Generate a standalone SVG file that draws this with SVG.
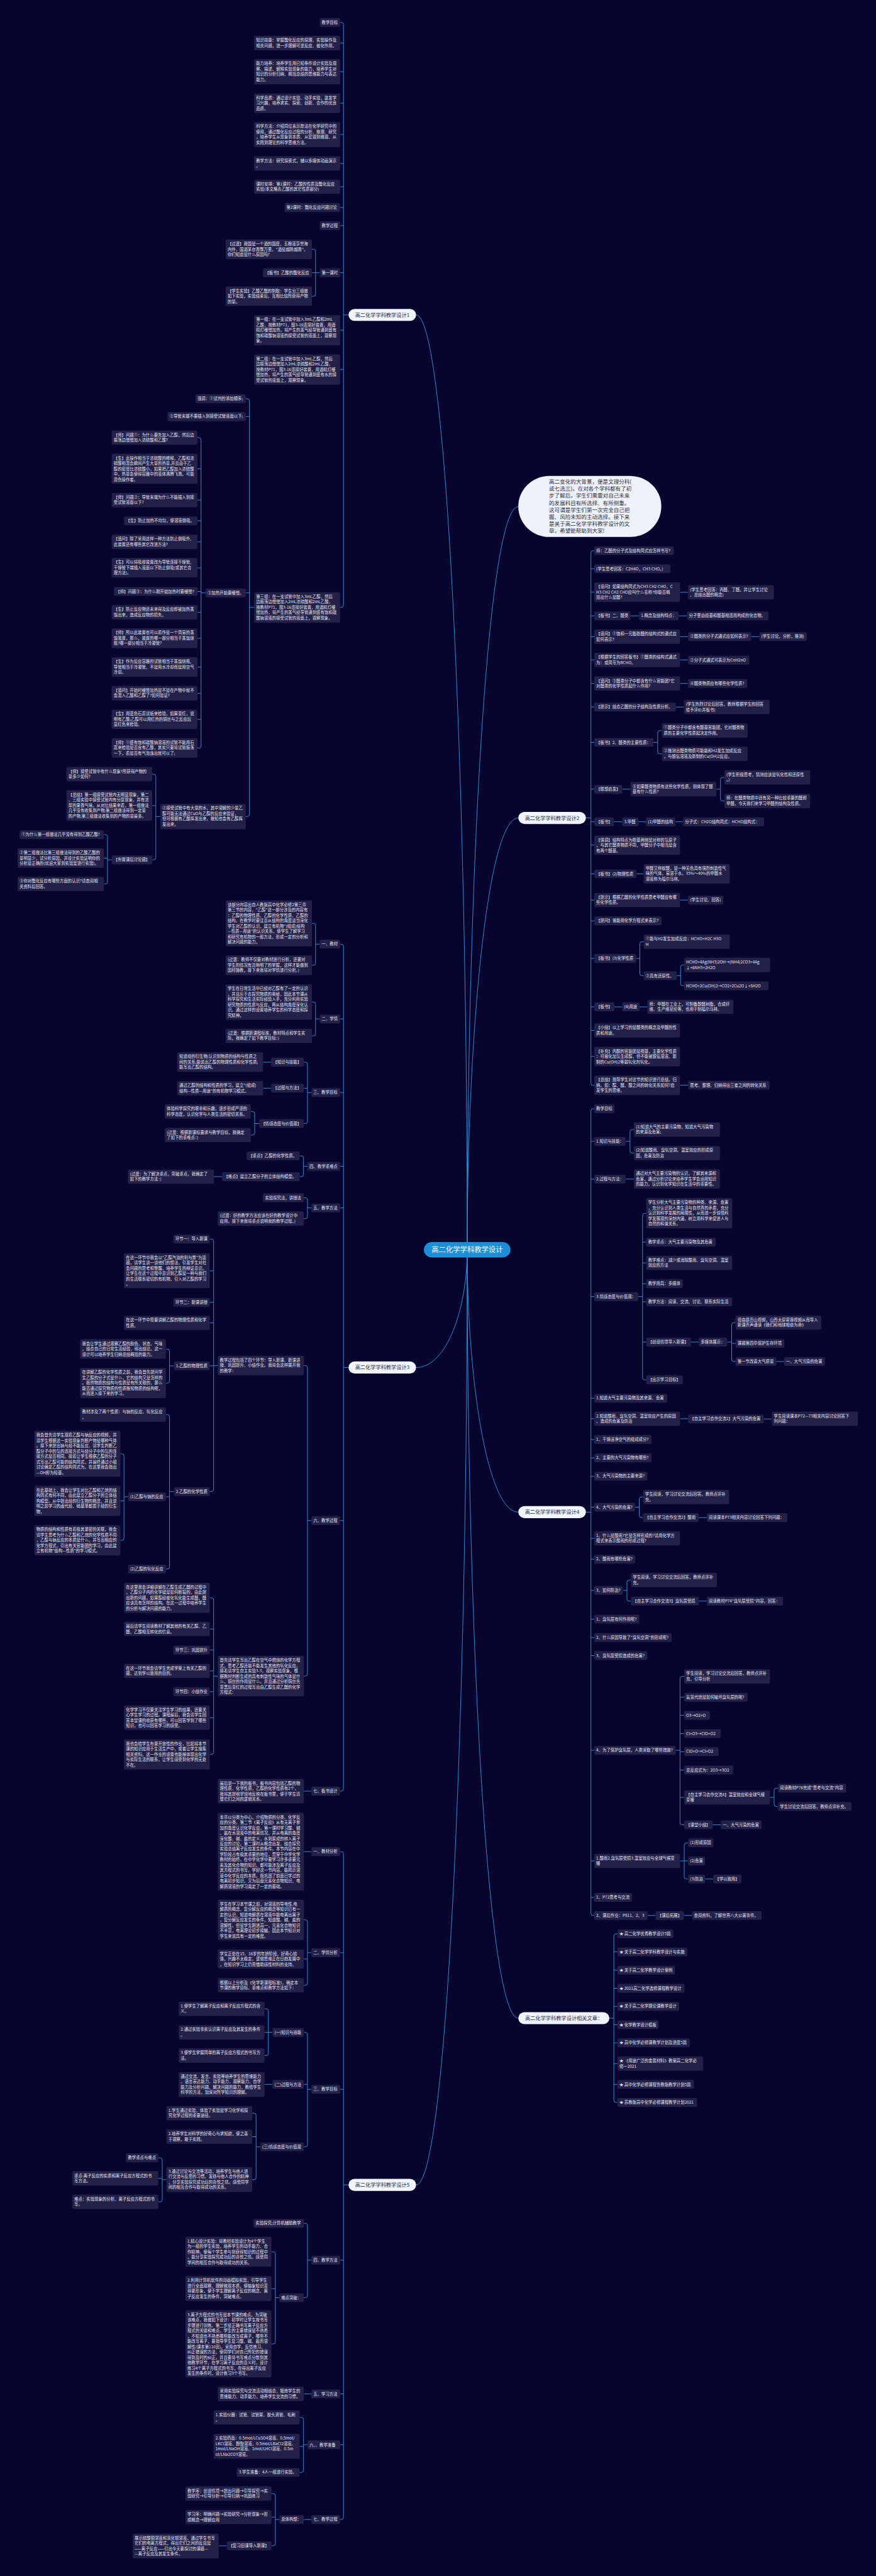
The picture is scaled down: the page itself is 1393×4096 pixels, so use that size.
<svg xmlns="http://www.w3.org/2000/svg" width="1393" height="4096" viewBox="0 0 1393 4096">
<style>
.n rect{fill:#232049;rx:5px}
.n text{font-family:"Noto Sans CJK SC","Noto Sans",sans-serif;font-size:14.4px;fill:#e6e6ef}
.br rect{fill:#f1f4fd;rx:22px}
.br text{font-family:"Noto Sans CJK SC","Noto Sans",sans-serif;font-size:18.5px;fill:#2b2b3b;text-anchor:middle}
.lk path{fill:none;stroke:#2e90da;stroke-width:2.2}
</style>
<rect width="1393" height="4096" fill="#07052e"/>
<g transform="scale(0.44408,0.43541)">
<g id="connectors" class="lk">
<path d="M1673,4564 C1673,2857 1600,1150 1490,1150"/>
<path d="M1673,4564 C1673,3207 1746,1850 1856,1850"/>
<path d="M1673,4564 C1673,3776 1746,2987 1856,2987"/>
<path d="M1673,4564 C1673,4779 1600,4994 1490,4994"/>
<path d="M1673,4564 C1673,5043 1746,5522 1856,5522"/>
<path d="M1673,4564 C1673,5967 1746,7370 1856,7370"/>
<path d="M1673,4564 C1673,6272 1600,7979 1490,7979"/>
<path d="M1218,82 H1222 Q1230,82 1230,90 V2210 Q1230,2218 1222,2218 H1218 M1230,157 H1218 M1230,262 H1218 M1230,377 H1218 M1230,491 H1218 M1230,597 H1218 M1230,682 H1218 M1230,758 H1218 M1230,824 H1218 M1230,996 H1218 M1230,1206 H1218 M1230,1349 H1218 M1248,1150 H1230"/>
<path d="M1117,910 H1122 Q1130,910 1130,918 V1074 Q1130,1082 1122,1082 H1117 M1130,996 H1117 M1145,996 H1130"/>
<path d="M880,1456 H885 Q893,1456 893,1464 V2974 Q893,2982 885,2982 H880 M893,1521 H880 M893,2165 H880 M910,2218 H893"/>
<path d="M707,1598 H712 Q720,1598 720,1606 V2724 Q720,2732 712,2732 H707 M720,1712 H707 M720,1826 H707 M720,1902 H707 M720,1979 H707 M720,2074 H707 M720,2160 H707 M720,2236 H707 M720,2331 H707 M720,2436 H707 M720,2532 H707 M720,2627 H707 M736,2165 H720"/>
<path d="M545,2827 H550 Q558,2827 558,2835 V3132 Q558,3140 550,3140 H545 M558,2942 H545 M574,2982 H558"/>
<path d="M372,3048 H377 Q385,3048 385,3056 V3220 Q385,3228 377,3228 H372 M385,3134 H372 M400,3140 H385"/>
<path d="M1218,3448 H1222 Q1230,3448 1230,3456 V6533 Q1230,6541 1222,6541 H1218 M1230,3721 H1218 M1230,3990 H1218 M1230,4259 H1218 M1230,4411 H1218 M1230,5553 H1218 M1248,4994 H1230"/>
<path d="M1117,3372 H1122 Q1130,3372 1130,3380 V3517 Q1130,3525 1122,3525 H1117 M1145,3448 H1130"/>
<path d="M1117,3659 H1122 Q1130,3659 1130,3667 V3775 Q1130,3783 1122,3783 H1117 M1145,3721 H1130"/>
<path d="M1088,3879 H1093 Q1101,3879 1101,3887 V4095 Q1101,4103 1093,4103 H1088 M1101,3974 H1088 M1115,3990 H1101"/>
<path d="M971,3879 H942 M971,3974 H942"/>
<path d="M898,4059 H904 Q912,4059 912,4067 V4137 Q912,4145 904,4145 H898 M928,4103 H912"/>
<path d="M1073,4221 H1079 Q1087,4221 1087,4229 V4289 Q1087,4297 1079,4297 H1073 M1101,4259 H1087 M795,4297 H766"/>
<path d="M1088,4374 H1093 Q1101,4374 1101,4382 V4442 Q1101,4450 1093,4450 H1088 M1115,4411 H1101"/>
<path d="M1088,4987 H1093 Q1101,4987 1101,4995 V6113 Q1101,6121 1093,6121 H1088 M1115,5553 H1101"/>
<path d="M751,4525 H757 Q765,4525 765,4533 V5439 Q765,5447 757,5447 H751 M765,4641 H751 M765,4756 H751 M765,4831 H751 M765,4988 H751 M780,4987 H765"/>
<path d="M594,4927 H599 Q607,4927 607,4935 V5043 Q607,5051 599,5051 H594 M623,4988 H607"/>
<path d="M594,5166 H599 Q607,5166 607,5174 V5722 Q607,5730 599,5730 H594 M607,5466 H594 M623,5447 H607"/>
<path d="M431,5309 H436 Q444,5309 444,5317 V5617 Q444,5625 436,5625 H431 M444,5481 H431 M459,5466 H444"/>
<path d="M751,5835 H757 Q765,5835 765,5843 V6399 Q765,6407 757,6407 H751 M765,5949 H751 M765,6026 H751 M765,6102 H751 M765,6178 H751 M765,6273 H751 M780,6121 H765"/>
<path d="M1115,6541 H1088"/>
<path d="M1218,6762 H1222 Q1230,6762 1230,6770 V9193 Q1230,9201 1222,9201 H1218 M1230,7131 H1218 M1230,7630 H1218 M1230,8254 H1218 M1230,8742 H1218 M1230,8928 H1218 M1248,7979 H1230"/>
<path d="M1115,6762 H1088"/>
<path d="M1088,7011 H1093 Q1101,7011 1101,7019 V7242 Q1101,7250 1093,7250 H1088 M1101,7154 H1088 M1115,7131 H1101"/>
<path d="M1088,7422 H1093 Q1101,7422 1101,7430 V7832 Q1101,7840 1093,7840 H1088 M1101,7612 H1088 M1115,7630 H1101"/>
<path d="M947,7336 H953 Q961,7336 961,7344 V7499 Q961,7507 953,7507 H947 M961,7422 H947 M976,7422 H961"/>
<path d="M976,7612 H947"/>
<path d="M903,7717 H909 Q917,7717 917,7725 V7952 Q917,7960 909,7960 H903 M917,7803 H903 M932,7840 H917"/>
<path d="M567,7880 H573 Q581,7880 581,7888 V8033 Q581,8041 573,8041 H567 M581,7955 H567 M596,7960 H581"/>
<path d="M1088,8119 H1093 Q1101,8119 1101,8127 V8383 Q1101,8391 1093,8391 H1088 M1115,8254 H1101"/>
<path d="M972,8223 H978 Q986,8223 986,8231 V8552 Q986,8560 978,8560 H972 M986,8358 H972 M1000,8391 H986"/>
<path d="M1115,8742 H1088"/>
<path d="M1073,8828 H1079 Q1087,8828 1087,8836 V9021 Q1087,9029 1079,9029 H1073 M1087,8934 H1073 M1101,8928 H1087"/>
<path d="M1115,9201 H1088"/>
<path d="M972,9106 H978 Q986,9106 986,9114 V9289 Q986,9297 978,9297 H972 M986,9192 H972 M1000,9201 H986 M812,9297 H783"/>
<path d="M2128,2011 H2124 Q2116,2011 2116,2019 V3956 Q2116,3964 2124,3964 H2128 M2116,2077 H2128 M2116,2162 H2128 M2116,2249 H2128 M2116,2325 H2128 M2116,2410 H2128 M2116,2496 H2128 M2116,2582 H2128 M2116,2711 H2128 M2116,2882 H2128 M2116,3001 H2128 M2116,3086 H2128 M2116,3191 H2128 M2116,3287 H2128 M2116,3363 H2128 M2116,3500 H2128 M2116,3677 H2128 M2116,3763 H2128 M2116,3858 H2128 M2098,2987 H2116"/>
<path d="M2435,2163 H2464 M2258,2249 H2288 M2430,2249 H2460 M2435,2325 H2464 M2690,2325 H2719 M2435,2410 H2464 M2435,2496 H2464 M2420,2582 H2449"/>
<path d="M2370,2668 H2363 Q2355,2668 2355,2676 V2745 Q2355,2753 2363,2753 H2370 M2340,2711 H2355"/>
<path d="M2228,2882 H2258 M2594,2839 H2588 Q2580,2839 2580,2847 V2917 Q2580,2925 2588,2925 H2594 M2565,2882 H2580"/>
<path d="M2198,3001 H2228 M2286,3001 H2313 M2418,3001 H2446 M2278,3191 H2305 M2435,3287 H2464"/>
<path d="M2305,3439 H2299 Q2291,3439 2291,3447 V3555 Q2291,3563 2299,3563 H2305 M2278,3500 H2291"/>
<path d="M2450,3524 H2445 Q2437,3524 2437,3532 V3592 Q2437,3600 2445,3600 H2450 M2423,3563 H2437"/>
<path d="M2200,3677 H2228 M2290,3677 H2318 M2435,3963 H2464"/>
<path d="M2128,4049 H2124 Q2116,4049 2116,4057 V6987 Q2116,6995 2124,6995 H2128 M2116,4168 H2128 M2116,4306 H2128 M2116,4735 H2128 M2116,5106 H2128 M2116,5181 H2128 M2116,5257 H2128 M2116,5324 H2128 M2116,5391 H2128 M2116,5504 H2128 M2116,5618 H2128 M2116,5694 H2128 M2116,5808 H2128 M2116,5913 H2128 M2116,5980 H2128 M2116,6046 H2128 M2116,6392 H2128 M2116,6796 H2128 M2116,6929 H2128 M2098,5522 H2116"/>
<path d="M2270,4125 H2264 Q2256,4125 2256,4133 V4203 Q2256,4211 2264,4211 H2270 M2240,4168 H2256 M2240,4306 H2270"/>
<path d="M2314,4431 H2309 Q2301,4431 2301,4439 V5031 Q2301,5039 2309,5039 H2314 M2301,4536 H2314 M2301,4612 H2314 M2301,4688 H2314 M2301,4754 H2314 M2301,4901 H2314 M2286,4735 H2301"/>
<path d="M2474,4901 H2502 M2634,4830 H2628 Q2620,4830 2620,4838 V4964 Q2620,4972 2628,4972 H2634 M2620,4906 H2634 M2604,4901 H2620 M2780,4972 H2808"/>
<path d="M2435,5181 H2464 M2735,5182 H2764"/>
<path d="M2303,5467 H2297 Q2289,5467 2289,5475 V5534 Q2289,5542 2297,5542 H2303 M2274,5504 H2289 M2502,5542 H2531"/>
<path d="M2259,5770 H2253 Q2245,5770 2245,5778 V5839 Q2245,5847 2253,5847 H2259 M2230,5808 H2245 M2502,5847 H2531"/>
<path d="M2450,6122 H2443 Q2435,6122 2435,6130 V6656 Q2435,6664 2443,6664 H2450 M2435,6198 H2450 M2435,6264 H2450 M2435,6331 H2450 M2435,6397 H2450 M2435,6464 H2450 M2435,6564 H2450 M2420,6392 H2435"/>
<path d="M2786,6530 H2780 Q2772,6530 2772,6538 V6589 Q2772,6597 2780,6597 H2786 M2757,6564 H2772 M2552,6664 H2581"/>
<path d="M2464,6730 H2458 Q2450,6730 2450,6738 V6854 Q2450,6862 2458,6862 H2464 M2450,6796 H2464 M2435,6796 H2450 M2525,6862 H2554"/>
<path d="M2319,6995 H2348 M2449,6995 H2478"/>
<path d="M2211,7062 H2206 Q2198,7062 2198,7070 V7670 Q2198,7678 2206,7678 H2211 M2198,7128 H2211 M2198,7195 H2211 M2198,7261 H2211 M2198,7327 H2211 M2198,7394 H2211 M2198,7460 H2211 M2198,7536 H2211 M2198,7612 H2211 M2182,7370 H2198"/>
</g>

<g id="center"><rect x="1518" y="4536" width="310" height="56" rx="28" fill="#1d8fd8"/><text x="1673" y="4573" font-family="Noto Sans CJK SC, sans-serif" font-size="25.5" fill="#ffffff" text-anchor="middle">高二化学学科教学设计</text></g>

<g id="intro"><rect x="1856" y="1738" width="512" height="223" rx="111" fill="#eef2fc"/><text font-family="Noto Sans CJK SC, sans-serif" font-size="19.3" fill="#2b2b3b"><tspan x="1966" y="1766">高二变化的大背景，便是文理分科(</tspan><tspan x="1966" dy="25.7">或七选三)。在对各个学科都有了初</tspan><tspan x="1966" dy="25.7">步了解后，学生们需要对自己未来</tspan><tspan x="1966" dy="25.7">的发展科目有所选择、有所侧重。</tspan><tspan x="1966" dy="25.7">这可谓是学生们第一次完全自己把</tspan><tspan x="1966" dy="25.7">握、风险未知的主动选择。接下来</tspan><tspan x="1966" dy="25.7">是关于高二化学学科教学设计的文</tspan><tspan x="1966" dy="25.7">章，希望能帮助到大家!</tspan></text></g>

<g id="branch1" class="br"><rect x="1248" y="1128" width="242" height="44"/><text x="1369" y="1157">高二化学学科教学设计1</text></g>
<g id="branch2" class="br"><rect x="1856" y="2965" width="242" height="44"/><text x="1977" y="2994">高二化学学科教学设计2</text></g>
<g id="branch3" class="br"><rect x="1248" y="4972" width="242" height="44"/><text x="1369" y="5001">高二化学学科教学设计3</text></g>
<g id="branch4" class="br"><rect x="1856" y="5500" width="242" height="44"/><text x="1977" y="5529">高二化学学科教学设计4</text></g>
<g id="branch5" class="br"><rect x="1248" y="7957" width="242" height="44"/><text x="1369" y="7986">高二化学学科教学设计5</text></g>
<g id="branch6" class="br"><rect x="1856" y="7348" width="326" height="44"/><text x="2019" y="7377">高二化学学科教学设计相关文章：</text></g>

<g id="a1" class="n"><rect x="1145" y="66" width="73" height="32"/><text x="1152" y="87">教学目标</text></g>
<g id="a2" class="n"><rect x="910" y="131" width="308" height="53"/><text x="917" y="152"><tspan>知识技能：掌握酯化反应的原理、实验操作及</tspan><tspan x="917" dy="19.5">相关问题，进一步理解可逆反应、催化作用。</tspan></text></g>
<g id="a3" class="n"><rect x="910" y="216" width="308" height="92"/><text x="917" y="237"><tspan>能力培养：培养学生用已知条件设计实验及观</tspan><tspan x="917" dy="19.5">察、描述、解释实验现象的能力，培养学生对</tspan><tspan x="917" dy="19.5">知识的分析归纳、概括总结的思维能力与表达</tspan><tspan x="917" dy="19.5">能力。</tspan></text></g>
<g id="a4" class="n"><rect x="910" y="341" width="308" height="72"/><text x="917" y="362"><tspan>科学品质：通过设计实验、动手实验，激发学</tspan><tspan x="917" dy="19.5">习兴趣，培养求实、探索、创新、合作的优良</tspan><tspan x="917" dy="19.5">品质。</tspan></text></g>
<g id="a5" class="n"><rect x="910" y="446" width="308" height="91"/><text x="917" y="467"><tspan>科学方法：介绍同位素示踪法在化学研究中的</tspan><tspan x="917" dy="19.5">使用，通过酯化反应过程的分析、推理、研究</tspan><tspan x="917" dy="19.5">，培养学生从现象到本质、从宏观到微观、从</tspan><tspan x="917" dy="19.5">实践到理论的科学思维方法。</tspan></text></g>
<g id="a6" class="n"><rect x="910" y="571" width="308" height="52"/><text x="917" y="592"><tspan>教学方法：研究探索式，辅以多媒体动画演示</tspan><tspan x="917" dy="19.5">。</tspan></text></g>
<g id="a7" class="n"><rect x="910" y="656" width="308" height="52"/><text x="917" y="677"><tspan>课时安排：第1课时：乙酸的性质及酯化反应</tspan><tspan x="917" dy="19.5">实验(本文略去乙酸的其它性质部分)</tspan></text></g>
<g id="a8" class="n"><rect x="1019" y="742" width="199" height="32"/><text x="1026" y="763">第2课时：酯化反应问题讨论</text></g>
<g id="a9" class="n"><rect x="1145" y="808" width="73" height="32"/><text x="1152" y="829">教学过程</text></g>
<g id="a10" class="n"><rect x="1145" y="980" width="73" height="32"/><text x="1152" y="1001">第一课时</text></g>
<g id="a10a" class="n"><rect x="808" y="875" width="309" height="71"/><text x="815" y="896"><tspan>【过渡】我国是一个酒的国度，五粮液享誉海</tspan><tspan x="815" dy="19.5">内外，国酒茅台香飘万里。"酒是越陈越香"。</tspan><tspan x="815" dy="19.5">你们知道是什么原因吗?</tspan></text></g>
<g id="a10b" class="n"><rect x="942" y="980" width="175" height="32"/><text x="949" y="1001">【板书】乙酸的酯化反应</text></g>
<g id="a10c" class="n"><rect x="808" y="1046" width="309" height="71"/><text x="815" y="1067"><tspan>【学生实验】乙酸乙酯的制取：学生分三组做</tspan><tspan x="815" dy="19.5">如下实验，实验结束后，互相比较所获得产物</tspan><tspan x="815" dy="19.5">的量。</tspan></text></g>
<g id="a11" class="n"><rect x="910" y="1151" width="308" height="110"/><text x="917" y="1172"><tspan>第一组：在一支试管中加入3mL乙醇和2mL</tspan><tspan x="917" dy="19.5">乙酸，按教材P71，图3-16连接好装置，用酒</tspan><tspan x="917" dy="19.5">精灯缓慢加热，将产生的蒸气经导管通到盛有</tspan><tspan x="917" dy="19.5">饱和碳酸钠溶液的接受试管的液面上，观察现</tspan><tspan x="917" dy="19.5">象。</tspan></text></g>
<g id="a12" class="n"><rect x="910" y="1294" width="308" height="111"/><text x="917" y="1315"><tspan>第二组：在一支试管中加入3mL乙醇，然后</tspan><tspan x="917" dy="19.5">边振荡边慢慢加入2mL浓硫酸和2mL乙酸，</tspan><tspan x="917" dy="19.5">按教材P71，图3-16连接好装置，用酒精灯缓</tspan><tspan x="917" dy="19.5">慢加热，将产生的蒸气经导管通到盛有水的接</tspan><tspan x="917" dy="19.5">受试管的液面上，观察现象。</tspan></text></g>
<g id="a13" class="n"><rect x="910" y="2163" width="308" height="111"/><text x="917" y="2184"><tspan>第三组：在一支试管中加入3mL乙醇，然后</tspan><tspan x="917" dy="19.5">边振荡边慢慢加入2mL浓硫酸和2mL乙酸，</tspan><tspan x="917" dy="19.5">按教材P71，图3-16连接好装置，用酒精灯缓</tspan><tspan x="917" dy="19.5">慢加热，将产生的蒸气经导管通到盛有饱和碳</tspan><tspan x="917" dy="19.5">酸钠溶液的接受试管的液面上，观察现象。</tspan></text></g>
<g id="s1" class="n"><rect x="700" y="1440" width="180" height="32"/><text x="707" y="1461">强调：①试剂的添加顺序;</text></g>
<g id="s2" class="n"><rect x="600" y="1505" width="280" height="33"/><text x="607" y="1526">②导管末端不要插入到接受试管液面以下;</text></g>
<g id="s3" class="n"><rect x="736" y="2149" width="144" height="32"/><text x="743" y="2170">③加热开始要缓慢。</text></g>
<g id="s4" class="n"><rect x="574" y="2936" width="306" height="92"/><text x="581" y="2957"><tspan>②接受试管中有大量的水，其中溶解的少量乙</tspan><tspan x="581" dy="19.5">醇可能无法通过CuO与乙醇的反应来验证，</tspan><tspan x="581" dy="19.5">但可根据有乙酸挥发出来，推知也会有乙醇挥</tspan><tspan x="581" dy="19.5">发出来。</tspan></text></g>
<g id="q1" class="n"><rect x="400" y="1572" width="307" height="52"/><text x="407" y="1593"><tspan>【师】问题①：为什么要先加入乙醇，然后边</tspan><tspan x="407" dy="19.5">振荡边慢慢加入浓硫酸和乙酸?</tspan></text></g>
<g id="q2" class="n"><rect x="400" y="1657" width="307" height="110"/><text x="407" y="1678"><tspan>【生】此操作相当于浓硫酸的稀释，乙醇和浓</tspan><tspan x="407" dy="19.5">硫酸相混会瞬间产生大量的热量,并且由于乙</tspan><tspan x="407" dy="19.5">醇的密度比浓硫酸小，如果把乙醇加入浓硫酸</tspan><tspan x="407" dy="19.5">中，热量会使得容器中的液体沸腾飞溅，可能</tspan><tspan x="407" dy="19.5">烫伤操作者。</tspan></text></g>
<g id="q3" class="n"><rect x="400" y="1800" width="307" height="52"/><text x="407" y="1821"><tspan>【师】问题②：导管末端为什么不能插入到接</tspan><tspan x="407" dy="19.5">受试管液面以下?</tspan></text></g>
<g id="q4" class="n"><rect x="444" y="1886" width="263" height="32"/><text x="451" y="1907">【生】防止加热不均匀，使溶液倒吸。</text></g>
<g id="q5" class="n"><rect x="400" y="1953" width="307" height="52"/><text x="407" y="1974"><tspan>【追问】除了采用这样一种方法防止倒吸外,</tspan><tspan x="407" dy="19.5">此装置还有哪些其它改进方法?</tspan></text></g>
<g id="q6" class="n"><rect x="400" y="2038" width="307" height="71"/><text x="407" y="2059"><tspan>【生】可以将吸收装置改为导管连接干燥管,</tspan><tspan x="407" dy="19.5">干燥管下端插入液面以下防止倒吸(或其它合</tspan><tspan x="407" dy="19.5">理方法)。</tspan></text></g>
<g id="q7" class="n"><rect x="408" y="2144" width="299" height="32"/><text x="415" y="2165">【师】问题③：为什么刚开始加热时要缓慢?</text></g>
<g id="q8" class="n"><rect x="400" y="2210" width="307" height="52"/><text x="407" y="2231"><tspan>【生】防止反应物还未来得及反应即被加热蒸</tspan><tspan x="407" dy="19.5">馏出来，造成反应物的损失。</tspan></text></g>
<g id="q9" class="n"><rect x="400" y="2295" width="307" height="72"/><text x="407" y="2316"><tspan>【师】所以此装置也可以看作是一个简易的蒸</tspan><tspan x="407" dy="19.5">馏装置，那么，装置的哪一部分相当于蒸馏烧</tspan><tspan x="407" dy="19.5">瓶?哪一部分相当于冷凝管?</tspan></text></g>
<g id="q10" class="n"><rect x="400" y="2400" width="307" height="72"/><text x="407" y="2421"><tspan>【生】作为反应容器的试管相当于蒸馏烧瓶,</tspan><tspan x="407" dy="19.5">导管相当于冷凝管，不是用水冷却而是用空气</tspan><tspan x="407" dy="19.5">冷却。</tspan></text></g>
<g id="q11" class="n"><rect x="400" y="2505" width="307" height="53"/><text x="407" y="2526"><tspan>【追问】开始时缓慢加热是不是在产物中就不</tspan><tspan x="407" dy="19.5">会混入乙酸和乙醇了?如何验证?</tspan></text></g>
<g id="q12" class="n"><rect x="400" y="2591" width="307" height="71"/><text x="407" y="2612"><tspan>【生】用蓝色石蕊试纸来检验，如果变红，说</tspan><tspan x="407" dy="19.5">明有乙酸;乙醇可以用红热的铜丝与之反应后</tspan><tspan x="407" dy="19.5">显红色来检验。</tspan></text></g>
<g id="q13" class="n"><rect x="400" y="2696" width="307" height="71"/><text x="407" y="2717"><tspan>【师】①盛有饱和碳酸钠溶液的试管不能用石</tspan><tspan x="407" dy="19.5">蕊来检验是否含有乙酸，其实只要将试管振荡</tspan><tspan x="407" dy="19.5">一下，看是否有气泡逸出就可以了;</tspan></text></g>
<g id="r1" class="n"><rect x="238" y="2801" width="307" height="52"/><text x="245" y="2822"><tspan>【师】接受试管中有什么现象?所获得产物的</tspan><tspan x="245" dy="19.5">量多少如何?</tspan></text></g>
<g id="r2" class="n"><rect x="238" y="2886" width="307" height="111"/><text x="245" y="2907"><tspan>【总结】第一组接受试管内无明显现象，第二</tspan><tspan x="245" dy="19.5">、三组实验中接受试管内有分层现象，并有浓</tspan><tspan x="245" dy="19.5">厚的果香气味。从对比结果来看，第一组做法</tspan><tspan x="245" dy="19.5">几乎没有收集到产物;第二组做法得到一定量</tspan><tspan x="245" dy="19.5">的产物;第三组做法收集到的产物的量最多。</tspan></text></g>
<g id="r3" class="n"><rect x="400" y="3124" width="145" height="32"/><text x="407" y="3145">【布置课后讨论题】</text></g>
<g id="r3a" class="n"><rect x="70" y="3032" width="302" height="32"/><text x="77" y="3053">①为什么第一组做法几乎没有得到乙酸乙酯?</text></g>
<g id="r3b" class="n"><rect x="63" y="3098" width="309" height="71"/><text x="70" y="3119"><tspan>②第二组做法比第三组做法得到的乙酸乙酯的</tspan><tspan x="70" dy="19.5">量明显少，试分析原因，并设计实验证明你的</tspan><tspan x="70" dy="19.5">分析是正确的(欢迎大家到实验室进行实验)。</tspan></text></g>
<g id="r3c" class="n"><rect x="63" y="3202" width="309" height="52"/><text x="70" y="3223"><tspan>③你对酯化反应有哪些方面的认识?请查阅相</tspan><tspan x="70" dy="19.5">关资料后回答。</tspan></text></g>

<g id="b1" class="n"><rect x="1145" y="3432" width="73" height="32"/><text x="1152" y="3453">一、教材</text></g>
<g id="b1a" class="n"><rect x="808" y="3288" width="309" height="168"/><text x="815" y="3309"><tspan>该部分内容出自人教版高中化学必修2第三章</tspan><tspan x="815" dy="19.5">第三节的内容，"乙醇"这一部分涉及的内容有</tspan><tspan x="815" dy="19.5">：乙醇的物理性质、乙醇的化学性质、乙醇的</tspan><tspan x="815" dy="19.5">结构。在教学时要注意从结构的角度适当深化</tspan><tspan x="815" dy="19.5">学生对乙醇的认识，建立有机物"(组成)结构</tspan><tspan x="815" dy="19.5">—性质—用途"的认识关系，使学生了解学习</tspan><tspan x="815" dy="19.5">和研究有机物的一般方法，形成一定的分析和</tspan><tspan x="815" dy="19.5">解决问题的能力。</tspan></text></g>
<g id="b1b" class="n"><rect x="808" y="3489" width="309" height="72"/><text x="815" y="3510"><tspan>(过渡：教师不仅要对教材进行分析，还要对</tspan><tspan x="815" dy="19.5">学生的情况有清晰明了的掌握，这样才能做到</tspan><tspan x="815" dy="19.5">因材施教，接下来我将对学情进行分析。)</tspan></text></g>
<g id="b2" class="n"><rect x="1145" y="3705" width="73" height="32"/><text x="1152" y="3726">二、学情</text></g>
<g id="b2a" class="n"><rect x="808" y="3595" width="309" height="129"/><text x="815" y="3616"><tspan>学生在日常生活中已经对乙醇有了一定的认识</tspan><tspan x="815" dy="19.5">，并且乐于去探究物质的奥秘，因此本节课从</tspan><tspan x="815" dy="19.5">科学探究和生活实际经验入手，充分利用实验</tspan><tspan x="815" dy="19.5">研究物质的性质与反应，再从结构角度深化认</tspan><tspan x="815" dy="19.5">识。通过这样的设置培养学生的科学态度和探</tspan><tspan x="815" dy="19.5">究精神。</tspan></text></g>
<g id="b2b" class="n"><rect x="808" y="3757" width="309" height="52"/><text x="815" y="3778"><tspan>(过渡：根据新课程标准，教材特点和学生实</tspan><tspan x="815" dy="19.5">际，我确定了如下教学目标：)</tspan></text></g>
<g id="b3" class="n"><rect x="1115" y="3974" width="103" height="32"/><text x="1122" y="3995">三、教学目标</text></g>
<g id="b3a" class="n"><rect x="971" y="3863" width="117" height="32"/><text x="978" y="3884">【知识与技能】</text></g>
<g id="b3a1" class="n"><rect x="635" y="3843" width="307" height="71"/><text x="642" y="3864"><tspan>知道烃的衍生物;认识到物质的结构与性质之</tspan><tspan x="642" dy="19.5">间的关系;能说出乙醇的物理性质和化学性质;</tspan><tspan x="642" dy="19.5">能写出乙醇的结构。</tspan></text></g>
<g id="b3b" class="n"><rect x="971" y="3958" width="117" height="32"/><text x="978" y="3979">【过程与方法】</text></g>
<g id="b3b1" class="n"><rect x="635" y="3948" width="307" height="52"/><text x="642" y="3969"><tspan>通过乙醇的结构和性质的学习，建立"(组成)</tspan><tspan x="642" dy="19.5">结构—性质—用途"的有机物学习模式。</tspan></text></g>
<g id="b3c" class="n"><rect x="928" y="4087" width="160" height="32"/><text x="935" y="4108">【情感态度与价值观】</text></g>
<g id="b3c1" class="n"><rect x="590" y="4033" width="308" height="52"/><text x="597" y="4054"><tspan>体验科学探究的艰辛和乐趣，逐步形成严谨的</tspan><tspan x="597" dy="19.5">科学态度，认识化学与人类生活的密切关系。</tspan></text></g>
<g id="b3c2" class="n"><rect x="590" y="4119" width="308" height="52"/><text x="597" y="4140"><tspan>(过渡：根据新课标要求与教学目标，我确定</tspan><tspan x="597" dy="19.5">了如下的重难点：)</tspan></text></g>
<g id="b4" class="n"><rect x="1101" y="4243" width="117" height="32"/><text x="1108" y="4264">四、教学重难点</text></g>
<g id="b4a" class="n"><rect x="883" y="4205" width="190" height="32"/><text x="890" y="4226">【重点】乙醇的化学性质。</text></g>
<g id="b4b" class="n"><rect x="795" y="4281" width="278" height="32"/><text x="802" y="4302">【难点】建立乙醇分子的立体结构模型。</text></g>
<g id="b4b1" class="n"><rect x="458" y="4271" width="308" height="52"/><text x="465" y="4292"><tspan>(过渡：为了解决重点，突破重点，我确定了</tspan><tspan x="465" dy="19.5">如下的教学方法：)</tspan></text></g>
<g id="b5" class="n"><rect x="1115" y="4395" width="103" height="32"/><text x="1122" y="4416">五、教学方法</text></g>
<g id="b5a" class="n"><rect x="942" y="4358" width="146" height="32"/><text x="949" y="4379">实验探究法，讲授法</text></g>
<g id="b5b" class="n"><rect x="780" y="4424" width="308" height="52"/><text x="787" y="4445"><tspan>(过渡：好的教学方法应该在好的教学设计中</tspan><tspan x="787" dy="19.5">应用，接下来我将重点说明我的教学过程。)</tspan></text></g>
<g id="b6" class="n"><rect x="1115" y="5537" width="103" height="32"/><text x="1122" y="5558">六、教学过程</text></g>
<g id="p1" class="n"><rect x="780" y="4951" width="308" height="71"/><text x="787" y="4972"><tspan>教学过程包括了四个环节：导入新课、新课讲</tspan><tspan x="787" dy="19.5">授、巩固提升、小结作业。我将会这样展开我</tspan><tspan x="787" dy="19.5">的教学：</tspan></text></g>
<g id="p2" class="n"><rect x="780" y="6047" width="308" height="148"/><text x="787" y="6068"><tspan>首先请学生写出乙醇在空气中燃烧的化学方程</tspan><tspan x="787" dy="19.5">式，思考乙醇还能不能发生其他的氧化反应。</tspan><tspan x="787" dy="19.5">接着请学生自主实验3-3，观察实验现象，根</tspan><tspan x="787" dy="19.5">据教材判断生成的具有刺激性气味的气体是什</tspan><tspan x="787" dy="19.5">么，铜丝的作用是什么。并且通过分析铜丝先</tspan><tspan x="787" dy="19.5">变黑后变红的过程写出由乙醇生成乙醛的化学</tspan><tspan x="787" dy="19.5">方程式：</tspan></text></g>
<g id="b7" class="n"><rect x="1115" y="6525" width="103" height="32"/><text x="1122" y="6546">七、板书设计</text></g>
<g id="b7a" class="n"><rect x="780" y="6496" width="308" height="90"/><text x="787" y="6517"><tspan>最后说一下我的板书，板书内容包括乙醇的物</tspan><tspan x="787" dy="19.5">理性质、化学性质，乙醇的化学性质有2个，</tspan><tspan x="787" dy="19.5">我将其提纲挈领地反映在板书里，便于学生清</tspan><tspan x="787" dy="19.5">楚它们之间的逻辑关系。</tspan></text></g>
<g id="h1" class="n"><rect x="621" y="4509" width="130" height="32"/><text x="628" y="4530">环节一：导入新课</text></g>
<g id="h1a" class="n"><rect x="444" y="4577" width="307" height="127"/><text x="451" y="4598"><tspan>在这一环节中我会以"乙醇汽油的利与弊"为话</tspan><tspan x="451" dy="19.5">题，请学生谈一谈他们的想法，引发学生对社</tspan><tspan x="451" dy="19.5">会问题的思考和警醒，培养学生的辩证意识。</tspan><tspan x="451" dy="19.5">让学生在这个过程中意识到乙醇是一种与我们</tspan><tspan x="451" dy="19.5">的生活联系密切的有机物，引入对乙醇的学习</tspan><tspan x="451" dy="19.5">。</tspan></text></g>
<g id="h2" class="n"><rect x="621" y="4740" width="130" height="32"/><text x="628" y="4761">环节二：新课讲授</text></g>
<g id="h2a" class="n"><rect x="444" y="4805" width="307" height="52"/><text x="451" y="4826"><tspan>在这一环节中需要讲解乙醇的物理性质和化学</tspan><tspan x="451" dy="19.5">性质。</tspan></text></g>
<g id="h3" class="n"><rect x="623" y="4972" width="128" height="32"/><text x="630" y="4993">1.乙醇的物理性质</text></g>
<g id="h3a" class="n"><rect x="287" y="4891" width="307" height="71"/><text x="294" y="4912"><tspan>我会让学生通过观察乙醇的颜色、状态、气味</tspan><tspan x="294" dy="19.5">，结合自己的日常生活经验，得出结论。这一</tspan><tspan x="294" dy="19.5">设计可以培养学生归纳总结概括的能力。</tspan></text></g>
<g id="h3b" class="n"><rect x="287" y="4996" width="307" height="110"/><text x="294" y="5017"><tspan>在讲解乙醇的化学性质之前，我会首先提问学</tspan><tspan x="294" dy="19.5">生乙醇的分子式是什么，它的结构又是怎样的</tspan><tspan x="294" dy="19.5">。既然物质的结构与性质是有所关联的，那么</tspan><tspan x="294" dy="19.5">能否通过探究物质的性质推知物质的结构呢，</tspan><tspan x="294" dy="19.5">从而进入接下来的学习。</tspan></text></g>
<g id="h4" class="n"><rect x="623" y="5431" width="128" height="32"/><text x="630" y="5452">2.乙醇的化学性质</text></g>
<g id="h4a" class="n"><rect x="287" y="5140" width="307" height="52"/><text x="294" y="5161"><tspan>教材涉及了两个性质：与钠的反应、氧化反应</tspan><tspan x="294" dy="19.5">。</tspan></text></g>
<g id="h4b" class="n"><rect x="459" y="5450" width="135" height="32"/><text x="466" y="5471">(1)乙醇与钠的反应</text></g>
<g id="h4b1" class="n"><rect x="123" y="5225" width="308" height="168"/><text x="130" y="5246"><tspan>我会首先请学生观看乙醇与钠反应的视频，并</tspan><tspan x="130" dy="19.5">请学生根据这一实验现象判断产物是哪种气体</tspan><tspan x="130" dy="19.5">。接下来提出钠与烃不能反应，请学生判断乙</tspan><tspan x="130" dy="19.5">醇分子中的氢的连接方式与烃分子中的氢的连</tspan><tspan x="130" dy="19.5">接方式是否相同。接着让学生根据乙醇的分子</tspan><tspan x="130" dy="19.5">式写出乙醇可能的结构简式，并最终通过小组</tspan><tspan x="130" dy="19.5">讨论确定乙醇的结构简式为。在这里我会指出</tspan><tspan x="130" dy="19.5">—OH即为羟基。</tspan></text></g>
<g id="h4b2" class="n"><rect x="123" y="5426" width="308" height="110"/><text x="130" y="5447"><tspan>在此基础上，我会让学生对比乙醇和乙烷的结</tspan><tspan x="130" dy="19.5">构简式有何不同，由此建立乙醇分子的立体结</tspan><tspan x="130" dy="19.5">构模型。从中提出烃的衍生物的概念，并且说</tspan><tspan x="130" dy="19.5">明之前学习的卤代烃、硝基苯都属于烃的衍生</tspan><tspan x="130" dy="19.5">物，</tspan></text></g>
<g id="h4b3" class="n"><rect x="123" y="5570" width="308" height="110"/><text x="130" y="5591"><tspan>物质的结构和性质有着极其紧密的关联，我会</tspan><tspan x="130" dy="19.5">请学生思考为什么乙醇和乙烷的化学性质不同</tspan><tspan x="130" dy="19.5">，乙醇与钠反应的本质是什么，并写出相应的</tspan><tspan x="130" dy="19.5">化学方程式，引出有关官能团的学习，由此建</tspan><tspan x="130" dy="19.5">立有机物"结构—性质"的学习模式。</tspan></text></g>
<g id="h4c" class="n"><rect x="459" y="5714" width="135" height="32"/><text x="466" y="5735">(2)乙醇的氧化反应</text></g>
<g id="k1" class="n"><rect x="444" y="5780" width="307" height="110"/><text x="451" y="5801"><tspan>在这里我会详细讲解在乙醇生成乙醛的过程中</tspan><tspan x="451" dy="19.5">，乙醇分子内的化学键是如何断裂的，由此提</tspan><tspan x="451" dy="19.5">出新的问题，如果醇经催化氧化能生成醛，醛</tspan><tspan x="451" dy="19.5">应该具有怎样的结构。在这一过程中培养学生</tspan><tspan x="451" dy="19.5">的分析与解决问题的能力。</tspan></text></g>
<g id="k2" class="n"><rect x="444" y="5923" width="307" height="52"/><text x="451" y="5944"><tspan>最后请学生阅读教材了解其他的有关乙醇、乙</tspan><tspan x="451" dy="19.5">醛、乙酸相互转化的信息。</tspan></text></g>
<g id="k3" class="n"><rect x="621" y="6010" width="130" height="32"/><text x="628" y="6031">环节三：巩固提升</text></g>
<g id="k4" class="n"><rect x="444" y="6076" width="307" height="52"/><text x="451" y="6097"><tspan>在这一环节我会请学生完成学案上有关乙醇的</tspan><tspan x="451" dy="19.5">题，达到学以致用的目的。</tspan></text></g>
<g id="k5" class="n"><rect x="621" y="6162" width="130" height="32"/><text x="628" y="6183">环节四：小结作业</text></g>
<g id="k6" class="n"><rect x="444" y="6228" width="307" height="89"/><text x="451" y="6249"><tspan>化学学习不仅要关注学生学习的结果，还要关</tspan><tspan x="451" dy="19.5">心学生学习的过程。课程最后，我会请学生回</tspan><tspan x="451" dy="19.5">答本堂课的收获有哪些，可以回答学到了哪些</tspan><tspan x="451" dy="19.5">知识，也可以回答学习的感受。</tspan></text></g>
<g id="k7" class="n"><rect x="444" y="6352" width="307" height="110"/><text x="451" y="6373"><tspan>我也会给学生布置开放性的作业，比如将本节</tspan><tspan x="451" dy="19.5">课的知识应用于生活生产中，或者让学生搜集</tspan><tspan x="451" dy="19.5">相关资料。这一作业的设置也能够体现出化学</tspan><tspan x="451" dy="19.5">与实际生活的联系，让学生感受到化学的无处</tspan><tspan x="451" dy="19.5">不在。</tspan></text></g>

<g id="c1" class="n"><rect x="1115" y="6746" width="103" height="32"/><text x="1122" y="6767">一、教材分析</text></g>
<g id="c1a" class="n"><rect x="780" y="6620" width="308" height="284"/><text x="787" y="6641"><tspan>本章以分类为中心，介绍物质的分类、化学反</tspan><tspan x="787" dy="19.5">应的分类。第二节《离子反应》从有无离子参</tspan><tspan x="787" dy="19.5">加的角度认识化学反应。第一课时学习酸、碱</tspan><tspan x="787" dy="19.5">、盐在水溶液中的电离情况，并从电离的角度</tspan><tspan x="787" dy="19.5">深化酸、碱、盐的定义，水到渠成的转入离子</tspan><tspan x="787" dy="19.5">反应的讨论。第二课时从概念出发，结合探究</tspan><tspan x="787" dy="19.5">实验总结离子反应发生的条件。本节内容在中</tspan><tspan x="787" dy="19.5">学阶段占有极其重要的地位，贯穿于中学化学</tspan><tspan x="787" dy="19.5">教材的始终。在中学化学中要学习许多重要元</tspan><tspan x="787" dy="19.5">素及其化合物的知识，都可能涉及离子反应及</tspan><tspan x="787" dy="19.5">其方程式的书写。学好这一节内容，能揭示溶</tspan><tspan x="787" dy="19.5">液中化学反应的本质。既巩固了前面已学过的</tspan><tspan x="787" dy="19.5">电离初步知识，又为后面元素化合物知识、电</tspan><tspan x="787" dy="19.5">解质溶液的学习奠定了一定的基础。</tspan></text></g>
<g id="c2" class="n"><rect x="1115" y="7115" width="103" height="32"/><text x="1122" y="7136">二、学情分析</text></g>
<g id="c2a" class="n"><rect x="780" y="6937" width="308" height="148"/><text x="787" y="6958"><tspan>学生在学习本节课之前，对溶液的导电性,电</tspan><tspan x="787" dy="19.5">解质的概念、复分解反应的概念等知识已有一</tspan><tspan x="787" dy="19.5">定的认识，知道电解质在溶液中能电离出离子</tspan><tspan x="787" dy="19.5">，复分解反应发生的条件，知道酸、碱、盐的</tspan><tspan x="787" dy="19.5">溶解性。但是学生刚进高一，元素化合物知识</tspan><tspan x="787" dy="19.5">不丰富，电离理论初步接触，因此本节知识对</tspan><tspan x="787" dy="19.5">学生来说具有一定的难度。</tspan></text></g>
<g id="c2b" class="n"><rect x="780" y="7119" width="308" height="70"/><text x="787" y="7140"><tspan>学生正处在15、16岁的年龄阶段，好奇心较</tspan><tspan x="787" dy="19.5">强，兴趣不太稳定，逻辑思维正在日趋发展中</tspan><tspan x="787" dy="19.5">，在知识学习上仍需借助感性材料的支持。</tspan></text></g>
<g id="c2c" class="n"><rect x="780" y="7224" width="308" height="52"/><text x="787" y="7245"><tspan>根据以上分析及《化学新课程标准》，确定本</tspan><tspan x="787" dy="19.5">节课的教学目标、重难点和教学方法如下：</tspan></text></g>
<g id="c3" class="n"><rect x="1115" y="7614" width="103" height="32"/><text x="1122" y="7635">三、教学目标</text></g>
<g id="c3a" class="n"><rect x="976" y="7406" width="112" height="32"/><text x="983" y="7427">(一)知识与技能</text></g>
<g id="c3a1" class="n"><rect x="640" y="7310" width="307" height="52"/><text x="647" y="7331"><tspan>1.使学生了解离子反应和离子反应方程式的含</tspan><tspan x="647" dy="19.5">义。</tspan></text></g>
<g id="c3a2" class="n"><rect x="640" y="7396" width="307" height="52"/><text x="647" y="7417"><tspan>2.通过实验事实认识离子反应及其发生的条件</tspan><tspan x="647" dy="19.5">。</tspan></text></g>
<g id="c3a3" class="n"><rect x="640" y="7481" width="307" height="52"/><text x="647" y="7502"><tspan>3.使学生掌握简单的离子反应方程式的书写方</tspan><tspan x="647" dy="19.5">法。</tspan></text></g>
<g id="c3b" class="n"><rect x="976" y="7596" width="112" height="32"/><text x="983" y="7617">(二)过程与方法</text></g>
<g id="c3b1" class="n"><rect x="640" y="7567" width="307" height="91"/><text x="647" y="7588"><tspan>通过交流、发言、实验等培养学生的思维能力</tspan><tspan x="647" dy="19.5">、语言表达能力、动手能力，观察能力、自学</tspan><tspan x="647" dy="19.5">能力及分析问题、解决问题的能力，教给学生</tspan><tspan x="647" dy="19.5">科学的方法，加深对所学知识的理解。</tspan></text></g>
<g id="c3c" class="n"><rect x="932" y="7824" width="156" height="32"/><text x="939" y="7845">(三)情感态度与价值观</text></g>
<g id="c3c1" class="n"><rect x="596" y="7691" width="307" height="52"/><text x="603" y="7712"><tspan>1.学生通过实验，体验了实验是学习化学和探</tspan><tspan x="603" dy="19.5">究化学过程的重要途径。</tspan></text></g>
<g id="c3c2" class="n"><rect x="596" y="7777" width="307" height="52"/><text x="603" y="7798"><tspan>2.培养学生对科学的好奇心与求知欲，使之善</tspan><tspan x="603" dy="19.5">于观察，敢于实践。</tspan></text></g>
<g id="c3c3" class="n"><rect x="596" y="7914" width="307" height="91"/><text x="603" y="7935"><tspan>3.通过讨论与交流等活动，培养学生与他人进</tspan><tspan x="603" dy="19.5">行交流与反思的习惯。发扬与他人合作的精神</tspan><tspan x="603" dy="19.5">，分享实验探究成功后的喜悦之情。感受同学</tspan><tspan x="603" dy="19.5">间的相互合作与取得成功的关系。</tspan></text></g>
<g id="c3c3a" class="n"><rect x="451" y="7864" width="116" height="32"/><text x="458" y="7885">教学重点与难点</text></g>
<g id="c3c3b" class="n"><rect x="259" y="7929" width="308" height="52"/><text x="266" y="7950"><tspan>重点:离子反应的实质和离子反应方程式的书</tspan><tspan x="266" dy="19.5">写方法。</tspan></text></g>
<g id="c3c3c" class="n"><rect x="259" y="8015" width="308" height="52"/><text x="266" y="8036"><tspan>难点：实验现象的分析、离子反应方程式的书</tspan><tspan x="266" dy="19.5">写。</tspan></text></g>
<g id="c4" class="n"><rect x="1115" y="8238" width="103" height="32"/><text x="1122" y="8259">四、教学方法</text></g>
<g id="c4a" class="n"><rect x="908" y="8103" width="180" height="32"/><text x="915" y="8124">实验探究;计算机辅助教学</text></g>
<g id="c4b" class="n"><rect x="1000" y="8375" width="88" height="32"/><text x="1007" y="8396">难点突破：</text></g>
<g id="c4b1" class="n"><rect x="664" y="8168" width="308" height="110"/><text x="671" y="8189"><tspan>1.精心设计实验：将教材实验设计为4个学生</tspan><tspan x="671" dy="19.5">为一组的学生实验，培养学生的动手能力、合</tspan><tspan x="671" dy="19.5">作精神。使每个学生参与到获得知识的过程中</tspan><tspan x="671" dy="19.5">，能分享实验探究成功后的喜悦之情。感受同</tspan><tspan x="671" dy="19.5">学间的相互合作与取得成功的关系。</tspan></text></g>
<g id="c4b2" class="n"><rect x="664" y="8312" width="308" height="91"/><text x="671" y="8333"><tspan>2.利用计算机软件的动画模拟实验，引导学生</tspan><tspan x="671" dy="19.5">进行全面观察，理解微观本质，使抽象知识变</tspan><tspan x="671" dy="19.5">得更形象，便于学生理解离子反应的概念、离</tspan><tspan x="671" dy="19.5">子反应发生的条件，突破难点。</tspan></text></g>
<g id="c4b3" class="n"><rect x="664" y="8437" width="308" height="245"/><text x="671" y="8458"><tspan>3.离子方程式的书写是本节课的难点。为突破</tspan><tspan x="671" dy="19.5">该难点，我做如下设计：初学时让学生按书写</tspan><tspan x="671" dy="19.5">步骤进行训练。第二步是正确书写离子反应方</tspan><tspan x="671" dy="19.5">程式的关键和难点。学生的主要错误是不熟悉</tspan><tspan x="671" dy="19.5">，不知道也不熟悉哪些能改写成离子，哪些不</tspan><tspan x="671" dy="19.5">能改写离子，要指导学生复习酸、碱、盐的溶</tspan><tspan x="671" dy="19.5">解性(课本第110页)。采用自学、反馈练习、</tspan><tspan x="671" dy="19.5">纠正错误的方法，使同学们对自己所犯的错误</tspan><tspan x="671" dy="19.5">得到及时的纠正。并且要将书写难点分散到其</tspan><tspan x="671" dy="19.5">他教学环节，在学习离子反应的意义时，设计</tspan><tspan x="671" dy="19.5">练习4个离子方程式的书写，在得出离子反应</tspan><tspan x="671" dy="19.5">发生的条件时，设计练习3个书写。</tspan></text></g>
<g id="c5" class="n"><rect x="1115" y="8726" width="103" height="32"/><text x="1122" y="8747">五、学习方法</text></g>
<g id="c5a" class="n"><rect x="780" y="8716" width="308" height="52"/><text x="787" y="8737"><tspan>采用实验探究与交流活动相结合，锻炼学生的</tspan><tspan x="787" dy="19.5">思维能力、动手能力，培养学生交流的习惯。</tspan></text></g>
<g id="c6" class="n"><rect x="1101" y="8912" width="117" height="32"/><text x="1108" y="8933">六、、教学准备</text></g>
<g id="c6a" class="n"><rect x="765" y="8802" width="308" height="52"/><text x="772" y="8823"><tspan>1.实验仪器：试管、试管架、胶头滴管、毛刷</tspan><tspan x="772" dy="19.5">。</tspan></text></g>
<g id="c6b" class="n"><rect x="765" y="8888" width="308" height="91"/><text x="772" y="8909"><tspan>2.实验药品：0.5mol/LCuSO4溶液、0.5mol/</tspan><tspan x="772" dy="19.5">LKCl溶液、酚酞溶液、0.5mol/LBaCl2溶液、</tspan><tspan x="772" dy="19.5">1mol/LNaOH溶液、1mol/LHCl溶液、0.5m</tspan><tspan x="772" dy="19.5">ol/LNa2CO3溶液。</tspan></text></g>
<g id="c6c" class="n"><rect x="848" y="9013" width="225" height="32"/><text x="855" y="9034">3.学生准备：4人一组进行实验。</text></g>
<g id="c7" class="n"><rect x="1115" y="9185" width="103" height="32"/><text x="1122" y="9206">七、教学过程</text></g>
<g id="c7a" class="n"><rect x="1000" y="9185" width="88" height="32"/><text x="1007" y="9206">总体构想：</text></g>
<g id="c7a1" class="n"><rect x="664" y="9080" width="308" height="52"/><text x="671" y="9101"><tspan>教学序：创设情境→提出问题→引导探究→实</tspan><tspan x="671" dy="19.5">验研究→引导分析→引导归纳→巩固练习</tspan></text></g>
<g id="c7a2" class="n"><rect x="664" y="9166" width="308" height="52"/><text x="671" y="9187"><tspan>学习序：明确问题→实验研究→分析现象→形</tspan><tspan x="671" dy="19.5">成概念→理解应用</tspan></text></g>
<g id="c7a3" class="n"><rect x="812" y="9281" width="160" height="32"/><text x="819" y="9302">【复习旧课导入新课】</text></g>
<g id="c7a3a" class="n"><rect x="475" y="9252" width="308" height="91"/><text x="482" y="9273"><tspan>展示硫酸铜溶液和氯化钡溶液，通过学生书写</tspan><tspan x="482" dy="19.5">它们的电离方程式，得出它们之间的反应是</tspan><tspan x="482" dy="19.5">——离子反应——引出今天要探讨的课题—</tspan><tspan x="482" dy="19.5">—离子反应及其发生条件。</tspan></text></g>

<g id="d1" class="n"><rect x="2128" y="1995" width="285" height="32"/><text x="2135" y="2016">师：乙醛的分子式及结构简式应怎样书写?</text></g>
<g id="d2" class="n"><rect x="2128" y="2061" width="273" height="32"/><text x="2135" y="2082">(学生思考回答：C2H4O，CH3 CHO。)</text></g>
<g id="d3" class="n"><rect x="2128" y="2127" width="307" height="71"/><text x="2135" y="2148"><tspan>【设问】如果结构简式为CH3 CH2 CHO，C</tspan><tspan x="2135" dy="19.5">H3 CH2 CH2 CHO应叫什么名称?你能否概</tspan><tspan x="2135" dy="19.5">括出什么是醛?</tspan></text></g>
<g id="d3a" class="n"><rect x="2464" y="2137" width="307" height="52"/><text x="2471" y="2158"><tspan>(学生思考回答：丙醛、丁醛。并让学生讨论</tspan><tspan x="2471" dy="19.5">、总结出醛的概念)</tspan></text></g>
<g id="d4" class="n"><rect x="2128" y="2233" width="130" height="32"/><text x="2135" y="2254">【板书】二、醛类</text></g>
<g id="d4a" class="n"><rect x="2288" y="2233" width="142" height="32"/><text x="2295" y="2254">1.概念及结构特点：</text></g>
<g id="d4b" class="n"><rect x="2460" y="2233" width="292" height="32"/><text x="2467" y="2254">分子里由烃基和醛基相连而构成的化合物。</text></g>
<g id="d5" class="n"><rect x="2128" y="2299" width="307" height="52"/><text x="2135" y="2320"><tspan>【设问】①饱和一元脂肪醛的结构式的通式应</tspan><tspan x="2135" dy="19.5">如何表示?</tspan></text></g>
<g id="d5a" class="n"><rect x="2464" y="2309" width="226" height="32"/><text x="2471" y="2330">②醛类的分子式通式应如何表示?</text></g>
<g id="d5b" class="n"><rect x="2719" y="2309" width="170" height="32"/><text x="2726" y="2330">(学生讨论，分析，推测)</text></g>
<g id="d6" class="n"><rect x="2128" y="2384" width="307" height="52"/><text x="2135" y="2405"><tspan>【根据学生的回答板书】①醛类的结构式通式</tspan><tspan x="2135" dy="19.5">为：或简写为RCHO。</tspan></text></g>
<g id="d6a" class="n"><rect x="2464" y="2395" width="219" height="32"/><text x="2471" y="2416">②分子式通式可表示为CnH2nO</text></g>
<g id="d7" class="n"><rect x="2128" y="2470" width="307" height="52"/><text x="2135" y="2491"><tspan>【追问】③醛类分子中都含有什么官能团?它</tspan><tspan x="2135" dy="19.5">对醛类的化学性质起什么作用?</tspan></text></g>
<g id="d7a" class="n"><rect x="2464" y="2480" width="212" height="32"/><text x="2471" y="2501">④醛类物质应有哪些化学性质?</text></g>
<g id="d8" class="n"><rect x="2128" y="2566" width="292" height="32"/><text x="2135" y="2587">【提示】结合乙醛的分子结构及性质分析。</text></g>
<g id="d8a" class="n"><rect x="2449" y="2556" width="307" height="52"/><text x="2456" y="2577"><tspan>(学生热烈讨论后回答，教师根据学生的回答</tspan><tspan x="2456" dy="19.5">给予评价并板书)</tspan></text></g>
<g id="d9" class="n"><rect x="2128" y="2695" width="212" height="32"/><text x="2135" y="2716">【板书】2、醛类的主要性质：</text></g>
<g id="d9a" class="n"><rect x="2370" y="2642" width="307" height="52"/><text x="2377" y="2663"><tspan>①醛类分子中都含有醛基官能团，它对醛类物</tspan><tspan x="2377" dy="19.5">质的主要化学性质起决定作用。</tspan></text></g>
<g id="d9b" class="n"><rect x="2370" y="2727" width="307" height="52"/><text x="2377" y="2748"><tspan>②推测出醛类物质可能能和H2发生加成反应</tspan><tspan x="2377" dy="19.5">，与银氨溶液及新制的Cu(OH)2反应。</tspan></text></g>
<g id="d10" class="n"><rect x="2128" y="2866" width="100" height="32"/><text x="2135" y="2887">【联想启发】</text></g>
<g id="d10a" class="n"><rect x="2258" y="2856" width="307" height="52"/><text x="2265" y="2877"><tspan>⑤如果醛类物质有这些化学性质，则体现了醛</tspan><tspan x="2265" dy="19.5">基有什么性质?</tspan></text></g>
<g id="d10b" class="n"><rect x="2594" y="2813" width="307" height="52"/><text x="2601" y="2834"><tspan>(学生积极思考，猜测应该是氧化性和还原性</tspan><tspan x="2601" dy="19.5">。)</tspan></text></g>
<g id="d10c" class="n"><rect x="2594" y="2899" width="307" height="52"/><text x="2601" y="2920"><tspan>师：在醛类物质中还有另一种比较重要的醛即</tspan><tspan x="2601" dy="19.5">甲醛，今天我们来学习甲醛的结构及性质。</tspan></text></g>
<g id="d11" class="n"><rect x="2128" y="2985" width="70" height="32"/><text x="2135" y="3006">【板书】</text></g>
<g id="d11a" class="n"><rect x="2228" y="2985" width="58" height="32"/><text x="2235" y="3006">3.甲醛</text></g>
<g id="d11b" class="n"><rect x="2313" y="2985" width="105" height="32"/><text x="2320" y="3006">(1)甲醛的结构</text></g>
<g id="d11c" class="n"><rect x="2446" y="2985" width="290" height="32"/><text x="2453" y="3006">分子式：CH2O结构简式：HCHO结构式：</text></g>
<g id="d12" class="n"><rect x="2128" y="3051" width="307" height="71"/><text x="2135" y="3072"><tspan>【强调】结构特点为羰基两侧是对称的氢原子</tspan><tspan x="2135" dy="19.5">，与其它醛类物质不同，甲醛分子中相当是含</tspan><tspan x="2135" dy="19.5">有两个醛基。</tspan></text></g>
<g id="d13" class="n"><rect x="2128" y="3175" width="150" height="32"/><text x="2135" y="3196">【板书】(2)物理性质</text></g>
<g id="d13a" class="n"><rect x="2305" y="3155" width="308" height="72"/><text x="2312" y="3176"><tspan>甲醛又称蚁醛，是一种无色具有强烈刺激性气</tspan><tspan x="2312" dy="19.5">味的气体，易溶于水。35%～40%的甲醛水</tspan><tspan x="2312" dy="19.5">溶液称为福尔马林。</tspan></text></g>
<g id="d14" class="n"><rect x="2128" y="3261" width="307" height="52"/><text x="2135" y="3282"><tspan>【提示】根据乙醛的化学性质思考甲醛应有哪</tspan><tspan x="2135" dy="19.5">些化学性质。</tspan></text></g>
<g id="d14a" class="n"><rect x="2464" y="3271" width="126" height="32"/><text x="2471" y="3292">(学生讨论、回答)</text></g>
<g id="d15" class="n"><rect x="2128" y="3347" width="241" height="32"/><text x="2135" y="3368">【提问】谁能用化学方程式来表示?</text></g>
<g id="d16" class="n"><rect x="2128" y="3484" width="150" height="32"/><text x="2135" y="3505">【板书】(3)化学性质</text></g>
<g id="d16a" class="n"><rect x="2305" y="3413" width="308" height="52"/><text x="2312" y="3434"><tspan>①能与H2发生加成反应：HCHO+H2C H3O</tspan><tspan x="2312" dy="19.5">H</tspan></text></g>
<g id="d16b" class="n"><rect x="2305" y="3547" width="118" height="32"/><text x="2312" y="3568">②具有还原性。</text></g>
<g id="d16c" class="n"><rect x="2450" y="3498" width="308" height="52"/><text x="2457" y="3519"><tspan>HCHO+4Ag(NH3)2OH→(NH4)2CO3+4Ag</tspan><tspan x="2457" dy="19.5">↓+6NH3+2H2O</tspan></text></g>
<g id="d16d" class="n"><rect x="2450" y="3584" width="302" height="32"/><text x="2457" y="3605">HCHO+2Cu(OH)2→CO2+2Cu2O↓+5H2O</text></g>
<g id="d17" class="n"><rect x="2128" y="3661" width="72" height="32"/><text x="2135" y="3682">【板书】</text></g>
<g id="d17a" class="n"><rect x="2228" y="3661" width="62" height="32"/><text x="2235" y="3682">(4)用途</text></g>
<g id="d17b" class="n"><rect x="2318" y="3651" width="308" height="52"/><text x="2325" y="3672"><tspan>师：甲醛在工业上，可制备酚醛树脂，合成纤</tspan><tspan x="2325" dy="19.5">维、生产维尼纶等，也用于制福尔马林。</tspan></text></g>
<g id="d18" class="n"><rect x="2128" y="3737" width="307" height="52"/><text x="2135" y="3758"><tspan>【小结】以上学习的是醛类的概念及甲醛的性</tspan><tspan x="2135" dy="19.5">质和用途。</tspan></text></g>
<g id="d19" class="n"><rect x="2128" y="3823" width="307" height="71"/><text x="2135" y="3844"><tspan>【补充】丙酮的官能团是羰基，主要化学性质</tspan><tspan x="2135" dy="19.5">：可催化加氢生成醇，但不能被银氨溶液、新</tspan><tspan x="2135" dy="19.5">制的Cu(OH)2等弱氧化剂氧化。</tspan></text></g>
<g id="d20" class="n"><rect x="2128" y="3928" width="307" height="71"/><text x="2135" y="3949"><tspan>【总结】指导学生对这节的知识进行总结，归</tspan><tspan x="2135" dy="19.5">纳。如：醇、醛、酸之间的转化关系如何?启</tspan><tspan x="2135" dy="19.5">发学生的思维。</tspan></text></g>
<g id="d20a" class="n"><rect x="2464" y="3947" width="292" height="32"/><text x="2471" y="3968">思考、整理、归纳得出三者之间的转化关系</text></g>

<g id="e1" class="n"><rect x="2128" y="4033" width="72" height="32"/><text x="2135" y="4054">教学目标</text></g>
<g id="e2" class="n"><rect x="2128" y="4152" width="112" height="32"/><text x="2135" y="4173">1.知识与技能：</text></g>
<g id="e2a" class="n"><rect x="2270" y="4099" width="308" height="52"/><text x="2277" y="4120"><tspan>(1)知道大气的主要污染物，知道大气污染物</tspan><tspan x="2277" dy="19.5">的来源及危害;</tspan></text></g>
<g id="e2b" class="n"><rect x="2270" y="4185" width="308" height="52"/><text x="2277" y="4206"><tspan>(2)知道酸雨、臭氧空洞、温室效应的形成原</tspan><tspan x="2277" dy="19.5">因，危害及防治</tspan></text></g>
<g id="e3" class="n"><rect x="2128" y="4290" width="112" height="32"/><text x="2135" y="4311">2.过程与方法：</text></g>
<g id="e3a" class="n"><rect x="2270" y="4270" width="308" height="71"/><text x="2277" y="4291"><tspan>通过对大气主要污染物的认识，了解其来源和</tspan><tspan x="2277" dy="19.5">危害，通过分析讨论来培养学生学会运用知识</tspan><tspan x="2277" dy="19.5">的能力，认识到化学知识在生活中的重要性。</tspan></text></g>
<g id="e4" class="n"><rect x="2128" y="4719" width="158" height="32"/><text x="2135" y="4740">3.情感态度与价值观：</text></g>
<g id="e4a" class="n"><rect x="2314" y="4376" width="308" height="110"/><text x="2321" y="4397"><tspan>学生分析大气主要污染物的种类、来源、危害</tspan><tspan x="2321" dy="19.5">，充分认识到人类生活与自然界的矛盾，充分</tspan><tspan x="2321" dy="19.5">认识到科学发展的局限性，从而进一步领悟科</tspan><tspan x="2321" dy="19.5">学发展观的深刻内涵，树立用科学来促进人与</tspan><tspan x="2321" dy="19.5">自然的和谐关系。</tspan></text></g>
<g id="e4b" class="n"><rect x="2314" y="4520" width="249" height="32"/><text x="2321" y="4541">教学重点：大气主要污染物及其危害</text></g>
<g id="e4c" class="n"><rect x="2314" y="4586" width="308" height="52"/><text x="2321" y="4607"><tspan>教学难点：减少或消除酸雨、臭氧空洞、温室</tspan><tspan x="2321" dy="19.5">效应的方法</tspan></text></g>
<g id="e4d" class="n"><rect x="2314" y="4672" width="131" height="32"/><text x="2321" y="4693">教学用具：多媒体</text></g>
<g id="e4e" class="n"><rect x="2314" y="4738" width="308" height="32"/><text x="2321" y="4759">教学方法：阅读、交流、讨论、联系实际生活</text></g>
<g id="e4f" class="n"><rect x="2314" y="4885" width="160" height="32"/><text x="2321" y="4906">【创设情境导入新课】</text></g>
<g id="e4g" class="n"><rect x="2502" y="4885" width="102" height="32"/><text x="2509" y="4906">多媒体展示：</text></g>
<g id="e4h" class="n"><rect x="2634" y="4804" width="307" height="52"/><text x="2641" y="4825"><tspan>垣曲县历山视频，山西太原雾霾视频从而导入</tspan><tspan x="2641" dy="19.5">新课齐声诵读《我们和地球相依为命》</tspan></text></g>
<g id="e4i" class="n"><rect x="2634" y="4890" width="174" height="32"/><text x="2641" y="4911">课题第四章保护生存环境</text></g>
<g id="e4j" class="n"><rect x="2634" y="4956" width="146" height="32"/><text x="2641" y="4977">第一节改善大气质量</text></g>
<g id="e4k" class="n"><rect x="2808" y="4956" width="146" height="32"/><text x="2815" y="4977">一、大气污染的危害</text></g>
<g id="e4l" class="n"><rect x="2314" y="5023" width="131" height="32"/><text x="2321" y="5044">【出示学习目标】</text></g>
<g id="e5" class="n"><rect x="2128" y="5090" width="261" height="32"/><text x="2135" y="5111">1.知道大气主要污染物及其来源、危害</text></g>
<g id="e6" class="n"><rect x="2128" y="5155" width="307" height="52"/><text x="2135" y="5176"><tspan>2.知道酸雨、臭氧空洞、温室效应产生的原因</tspan><tspan x="2135" dy="19.5">、造成的危害及防治</tspan></text></g>
<g id="e6a" class="n"><rect x="2464" y="5166" width="271" height="32"/><text x="2471" y="5187">【自主学习合作交流1】大气污染的危害</text></g>
<g id="e6b" class="n"><rect x="2764" y="5155" width="308" height="52"/><text x="2771" y="5176"><tspan>学生阅读课本P72—73相关内容讨论回答下</tspan><tspan x="2771" dy="19.5">列问题：</tspan></text></g>
<g id="e7" class="n"><rect x="2128" y="5241" width="205" height="32"/><text x="2135" y="5262">1、干燥洁净空气的组成成分?</text></g>
<g id="e8" class="n"><rect x="2128" y="5308" width="205" height="32"/><text x="2135" y="5329">2、主要的大气污染物有哪些?</text></g>
<g id="e9" class="n"><rect x="2128" y="5375" width="190" height="32"/><text x="2135" y="5396">3、大气污染物的主要来源?</text></g>
<g id="e10" class="n"><rect x="2128" y="5488" width="146" height="32"/><text x="2135" y="5509">4、大气污染的危害?</text></g>
<g id="e10a" class="n"><rect x="2303" y="5441" width="308" height="52"/><text x="2310" y="5462"><tspan>学生阅读，学习讨论交流后回答，教师点评补</tspan><tspan x="2310" dy="19.5">充。</tspan></text></g>
<g id="e10b" class="n"><rect x="2303" y="5526" width="199" height="32"/><text x="2310" y="5547">【自主学习合作交流2】酸雨</text></g>
<g id="e10c" class="n"><rect x="2531" y="5526" width="288" height="32"/><text x="2538" y="5547">阅读课本P73相关内容讨论回答下列问题：</text></g>
<g id="e11" class="n"><rect x="2128" y="5592" width="307" height="52"/><text x="2135" y="5613"><tspan>1、什么是酸雨?它是怎样形成的?请用化学方</tspan><tspan x="2135" dy="19.5">程式来表示酸雨的形成过程?</tspan></text></g>
<g id="e12" class="n"><rect x="2128" y="5678" width="146" height="32"/><text x="2135" y="5699">2、酸雨有哪些危害?</text></g>
<g id="e13" class="n"><rect x="2128" y="5792" width="102" height="32"/><text x="2135" y="5813">3、如何防治?</text></g>
<g id="e13a" class="n"><rect x="2259" y="5744" width="308" height="52"/><text x="2266" y="5765"><tspan>学生阅读，学习讨论交流后回答，教师点评补</tspan><tspan x="2266" dy="19.5">充。</tspan></text></g>
<g id="e13b" class="n"><rect x="2259" y="5831" width="243" height="32"/><text x="2266" y="5852">【自主学习合作交流3】臭氧层受损</text></g>
<g id="e13c" class="n"><rect x="2531" y="5831" width="273" height="32"/><text x="2538" y="5852">阅读教材P74"臭氧层受损"内容，回答：</text></g>
<g id="e14" class="n"><rect x="2128" y="5897" width="161" height="32"/><text x="2135" y="5918">1、臭氧层有何作用呢?</text></g>
<g id="e15" class="n"><rect x="2128" y="5964" width="277" height="32"/><text x="2135" y="5985">2、什么原因导致了"臭氧空洞"的形成呢?</text></g>
<g id="e16" class="n"><rect x="2128" y="6030" width="190" height="32"/><text x="2135" y="6051">3、臭氧层受损造成的危害?</text></g>
<g id="e17" class="n"><rect x="2128" y="6376" width="292" height="32"/><text x="2135" y="6397">4、为了保护臭氧层，人类采取了哪些措施?</text></g>
<g id="e17a" class="n"><rect x="2450" y="6096" width="307" height="52"/><text x="2457" y="6117"><tspan>学生阅读，学习讨论交流后回答，教师点评补</tspan><tspan x="2457" dy="19.5">充、引导分析</tspan></text></g>
<g id="e17b" class="n"><rect x="2450" y="6182" width="227" height="32"/><text x="2457" y="6203">氟氯代烷是如何破坏臭氧层的呢?</text></g>
<g id="e17c" class="n"><rect x="2450" y="6248" width="92" height="32"/><text x="2457" y="6269">O3→O2+O</text></g>
<g id="e17d" class="n"><rect x="2450" y="6315" width="131" height="32"/><text x="2457" y="6336">Cl+O3→ClO+O2</text></g>
<g id="e17e" class="n"><rect x="2450" y="6381" width="123" height="32"/><text x="2457" y="6402">ClO+O→Cl+O2</text></g>
<g id="e17f" class="n"><rect x="2450" y="6448" width="175" height="32"/><text x="2457" y="6469">总反应式为：2O3→3O2</text></g>
<g id="e17g" class="n"><rect x="2450" y="6538" width="307" height="52"/><text x="2457" y="6559"><tspan>【自主学习合作交流4】温室效应和全球气候</tspan><tspan x="2457" dy="19.5">变暖</tspan></text></g>
<g id="e17h" class="n"><rect x="2786" y="6514" width="244" height="32"/><text x="2793" y="6535">阅读教材P76完成"思考与交流"内容</text></g>
<g id="e17i" class="n"><rect x="2786" y="6581" width="263" height="32"/><text x="2793" y="6602">学生讨论交流后回答，教师点评补充。</text></g>
<g id="e17j" class="n"><rect x="2450" y="6648" width="102" height="32"/><text x="2457" y="6669">【课堂小结】</text></g>
<g id="e17k" class="n"><rect x="2581" y="6648" width="146" height="32"/><text x="2588" y="6669">一、大气污染的危害</text></g>
<g id="e18" class="n"><rect x="2128" y="6770" width="307" height="52"/><text x="2135" y="6791"><tspan>1.酸雨2.臭氧层受损3.温室效应与全球气候变</tspan><tspan x="2135" dy="19.5">暖</tspan></text></g>
<g id="e18a" class="n"><rect x="2464" y="6714" width="90" height="32"/><text x="2471" y="6735">(1)形成原因</text></g>
<g id="e18b" class="n"><rect x="2464" y="6780" width="61" height="32"/><text x="2471" y="6801">(2)危害</text></g>
<g id="e18c" class="n"><rect x="2464" y="6846" width="61" height="32"/><text x="2471" y="6867">(3)防治</text></g>
<g id="e18d" class="n"><rect x="2554" y="6846" width="101" height="32"/><text x="2561" y="6867">【学以致用】</text></g>
<g id="e19" class="n"><rect x="2128" y="6913" width="135" height="32"/><text x="2135" y="6934">1、P72思考与交流</text></g>
<g id="e20" class="n"><rect x="2128" y="6979" width="191" height="32"/><text x="2135" y="7000">2、课后作业：P811、2、3</text></g>
<g id="e20a" class="n"><rect x="2348" y="6979" width="101" height="32"/><text x="2355" y="7000">【课后拓展】</text></g>
<g id="e20b" class="n"><rect x="2478" y="6979" width="249" height="32"/><text x="2485" y="7000">查阅资料，了解世界八大公害事件。</text></g>

<g id="f1" class="n"><rect x="2211" y="7046" width="200" height="32"/><text x="2218" y="7067">★ 高二化学优秀教学设计5篇</text></g>
<g id="f2" class="n"><rect x="2211" y="7112" width="250" height="32"/><text x="2218" y="7133">★ 关于高二化学学科教学设计与实施</text></g>
<g id="f3" class="n"><rect x="2211" y="7179" width="206" height="32"/><text x="2218" y="7200">★ 关于高二化学教学设计案例</text></g>
<g id="f4" class="n"><rect x="2211" y="7245" width="240" height="32"/><text x="2218" y="7266">★ 2021高二化学选修课程教学设计</text></g>
<g id="f5" class="n"><rect x="2211" y="7311" width="221" height="32"/><text x="2218" y="7332">★ 关于高二化学理论课教学设计</text></g>
<g id="f6" class="n"><rect x="2211" y="7378" width="147" height="32"/><text x="2218" y="7399">★ 化学教学设计模板</text></g>
<g id="f7" class="n"><rect x="2211" y="7444" width="259" height="32"/><text x="2218" y="7465">★ 高中化学必修课教学计划及进度5篇</text></g>
<g id="f8" class="n"><rect x="2211" y="7510" width="307" height="52"/><text x="2218" y="7531"><tspan>★ 《用途广泛的金属材料》教案高二化学必</tspan><tspan x="2218" dy="19.5">修一2021</tspan></text></g>
<g id="f9" class="n"><rect x="2211" y="7596" width="274" height="32"/><text x="2218" y="7617">★ 高中化学必修课程鲁教版教学计划5篇</text></g>
<g id="f10" class="n"><rect x="2211" y="7662" width="285" height="32"/><text x="2218" y="7683">★ 苏教版高中化学必修课程教学计划2021</text></g>
</g>
</svg>
